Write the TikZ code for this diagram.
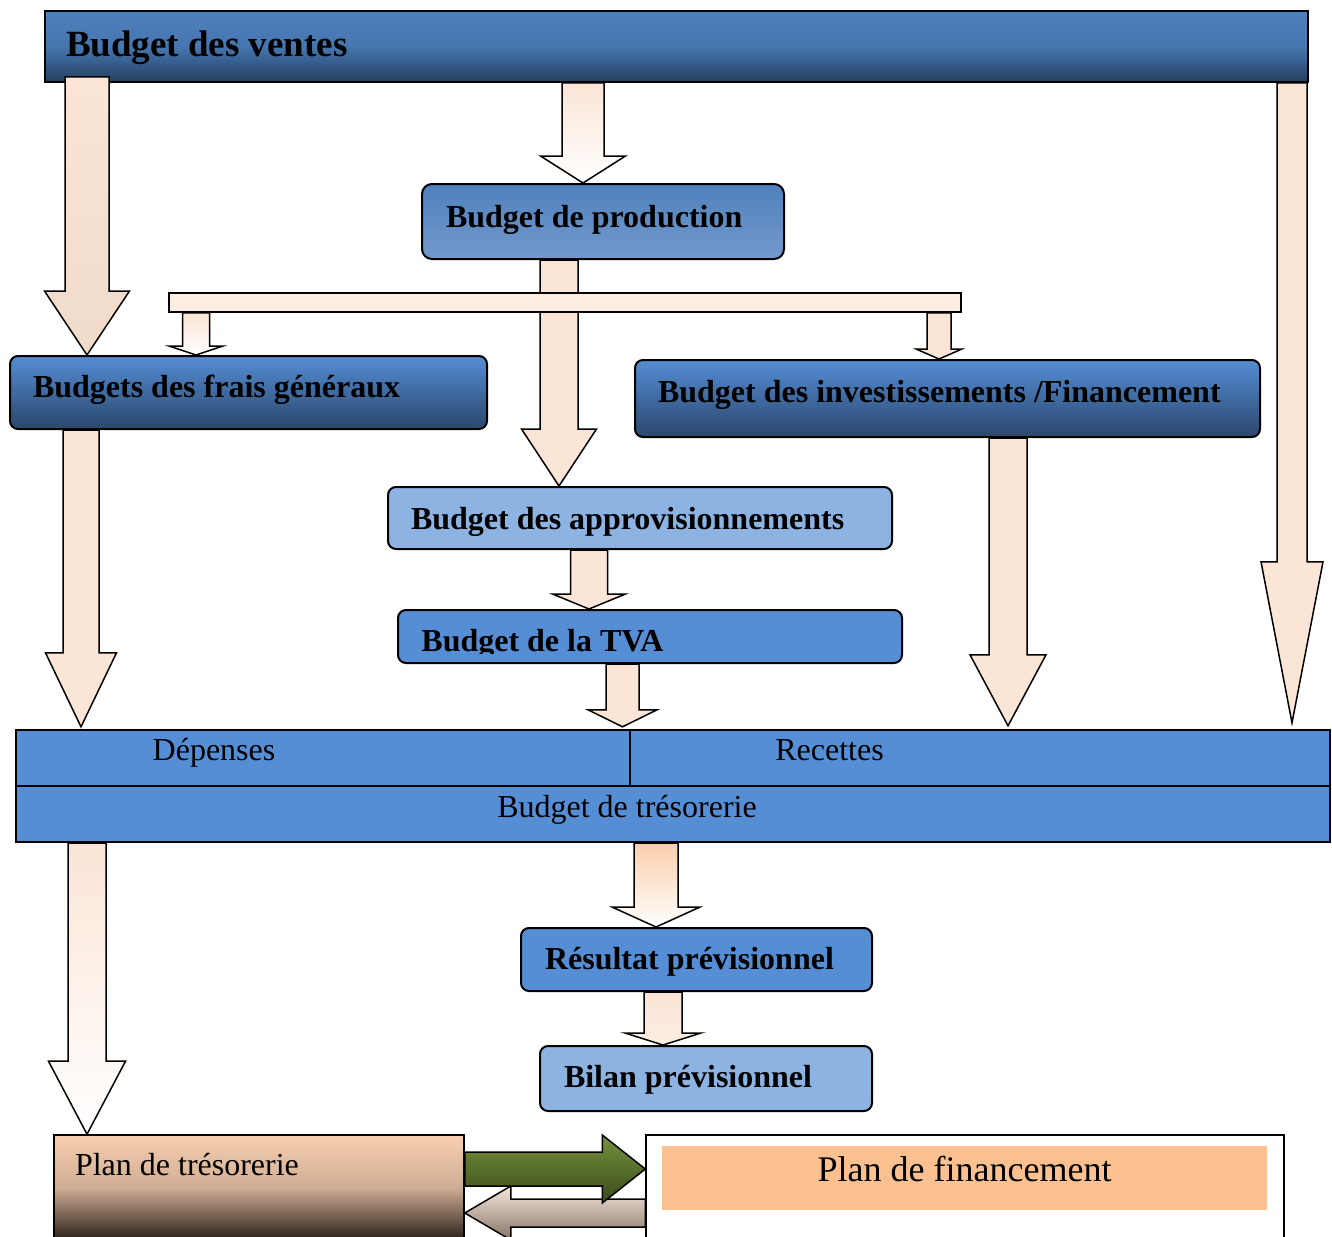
\documentclass[tikz,border=0pt]{standalone}
\usepackage{fontspec}
\setmainfont{Liberation Serif}
\usetikzlibrary{calc}
\definecolor{peach}{HTML}{FBE5D6}
\definecolor{peachdk}{HTML}{F0DACA}
\definecolor{peachlt}{HTML}{FDEDE2}
\definecolor{peachor}{HTML}{F9CFAC}
\definecolor{boxblue}{HTML}{558ED5}
\definecolor{lightblue}{HTML}{8DB3E2}
\definecolor{bluetop}{HTML}{4F81BD}
\definecolor{bluemid}{HTML}{4676B0}
\definecolor{bluedark}{HTML}{25405F}
\definecolor{bluetop2}{HTML}{548DD4}
\definecolor{bluedark2}{HTML}{2B476C}
\definecolor{bluelow}{HTML}{7399CC}
\definecolor{orangefill}{HTML}{FAC090}
\definecolor{greentop}{HTML}{76923C}
\definecolor{greendk}{HTML}{394A1B}
\definecolor{graytop}{HTML}{F8E8DC}
\definecolor{graydk}{HTML}{857466}
\definecolor{brtop}{HTML}{F8CFAE}
\definecolor{brmid}{HTML}{CFAD94}
\definecolor{brdk}{HTML}{2A2019}
\newcommand\natsp{\spaceskip=0pt\xspaceskip=0pt\relax}
\tikzset{
  bx/.style={draw=black, line width=1pt, rounded corners=4pt, inner ysep=0pt, align=left,
    text height=14pt, font=\bfseries\fontsize{16}{19}\selectfont},
  cell/.style={draw=black, line width=1.2pt, fill=boxblue, inner sep=0pt, minimum height=28pt},
  celltext/.style={font=\fontsize{16}{19}\selectfont, inner sep=0pt, anchor=base},
  arr/.style={draw=black, line width=0.75pt, line join=miter, fill=peach},
}
% vertical block arrow: start, tip, shaft half width, head half width, head length (px)
\newcommand\darrow[6][]{%
  \path[#1] let \p1=(#2), \p2=(#3) in
   ({\x2-#4*0.5pt},\y1) -- ({\x2-#4*0.5pt},{\y2+#6*0.5pt}) -- ({\x2-#5*0.5pt},{\y2+#6*0.5pt}) -- (\x2,\y2)
   -- ({\x2+#5*0.5pt},{\y2+#6*0.5pt}) -- ({\x2+#4*0.5pt},{\y2+#6*0.5pt}) -- ({\x2+#4*0.5pt},\y1) -- cycle;}
% horizontal block arrow: start, tip, shaft half width, head half width, signed head length (px)
\newcommand\harrow[6][]{%
  \path[#1] let \p1=(#2), \p2=(#3) in
   (\x1,{\y2+#4*0.5pt}) -- ({\x2-(#6)*0.5pt},{\y2+#4*0.5pt}) -- ({\x2-(#6)*0.5pt},{\y2+#5*0.5pt}) -- (\x2,\y2)
   -- ({\x2-(#6)*0.5pt},{\y2-#5*0.5pt}) -- ({\x2-(#6)*0.5pt},{\y2-#4*0.5pt}) -- (\x1,{\y2-#4*0.5pt}) -- cycle;}
\begin{document}
\begin{tikzpicture}[x=0.5pt,y=-0.5pt]
\useasboundingbox (0,0) rectangle (1332,1236);
\fill[white] (0,0) rectangle (1332,1236);
\clip (0,0) rectangle (1332,1236);

% boxes
\node[bx, rounded corners=0pt, top color=bluetop, bottom color=bluedark, middle color=bluemid,
  minimum height=35.5pt, text width=610.5pt, inner xsep=10.5pt, text depth=3.5pt,
  font=\bfseries\fontsize{18.5}{22}\selectfont] (ventes) at (676.5,46.5) {\natsp Budget des ventes};
\node[bx, rounded corners=5pt, top color=bluetop, bottom color=bluelow,
  minimum height=37.5pt, text width=157pt, inner xsep=12pt, text depth=8.5pt] (production) at (603,221.5) {\natsp Budget de production};
\node[bx, top color=bluetop2, bottom color=bluedark2,
  minimum height=36.5pt, text width=215.5pt, inner xsep=11.5pt, text depth=9.5pt] (frais) at (248.5,392.5) {\natsp Budgets des frais généraux};
\node[bx, top color=bluetop2, bottom color=bluedark2,
  minimum height=38.5pt, text width=289.5pt, inner xsep=11.5pt, text depth=9.8pt] (invest) at (947.5,398.5) {\natsp Budget des investissements /Financement};
\node[bx, fill=lightblue,
  minimum height=31pt, text width=229pt, inner xsep=11.5pt, text depth=2.7pt] (appro) at (640,518) {\natsp Budget des approvisionnements};
\node[bx, fill=boxblue, minimum height=26.5pt, minimum width=252pt, inner sep=0pt] (tva) at (650,636.5) {};

\node[cell, minimum width=307pt] (depenses) at (323,758) {};
\node[cell, minimum width=350pt] (recettes) at (980,758) {};
\node[cell, minimum width=657pt] (tresorerie) at (673,814) {};
\node[celltext] (tdep) at (214,760) {Dépenses};
\node[celltext] (trec) at (829.5,760) {Recettes};
\node[celltext] (ttreso) at (627,817) {Budget de trésorerie};

\node[bx, fill=boxblue,
  minimum height=31.5pt, text width=151.5pt, inner xsep=12pt, text depth=4.2pt] (resultat) at (696.5,959.5) {\natsp Résultat prévisionnel};
\node[bx, fill=lightblue,
  minimum height=32.5pt, text width=142pt, inner xsep=12pt, text depth=5.2pt] (bilan) at (706,1078.5) {\natsp Bilan prévisionnel};

\node[draw=black, line width=0.8pt, top color=brtop, bottom color=brdk, middle color=brmid,
  minimum height=52.5pt, text width=184pt, inner xsep=10.5pt, inner ysep=0pt, align=left,
  text height=14pt, text depth=26.5pt, font=\fontsize{16}{19}\selectfont] (plantreso) at (259,1187.5) {\natsp Plan de trésorerie};

% anchor points on the bottom row
\coordinate (greentip) at (645,1169);
\coordinate (graytip) at (464,1213);

% arrows
\darrow[arr, top color=peach, bottom color=white]{ventes.south}{583,0 |- production.north}{21}{42.5}{27}
\darrow[arr]{1292,0 |- ventes.south}{$(1292,0 |- recettes.north)+(0,-6)$}{15}{31}{161}
\darrow[arr, top color=peach, bottom color=peachdk]{$(87,0 |- ventes.south)+(0,-6)$}{87,0 |- frais.north}{22}{42.5}{64}
\darrow[arr]{559,0 |- production.south}{559,0 |- appro.north}{19}{37.5}{57}
\node[draw=black, line width=0.75pt, fill=peachlt, minimum width=396pt, minimum height=9.5pt, inner sep=0pt] (branch) at (565,302.5) {};
\darrow[arr, top color=peach, bottom color=white]{196,0 |- branch.south}{196,0 |- frais.north}{13.5}{27}{9}
\darrow[arr]{939,0 |- branch.south}{939,0 |- invest.north}{12}{23}{10}
\darrow[arr]{81,0 |- frais.south}{$(81,0 |- depenses.north)+(0,-2)$}{18}{35.5}{74}
\darrow[arr]{589,0 |- appro.south}{589,0 |- tva.north}{18.5}{36.5}{15}
\darrow[arr]{622.5,0 |- tva.south}{$(622.5,0 |- depenses.north)+(0,-2)$}{16.5}{34.5}{17}
\darrow[arr]{1008,0 |- invest.south}{$(1008,0 |- recettes.north)+(0,-3)$}{19}{38}{71}
\darrow[arr, top color=peach, bottom color=white]{87,0 |- tresorerie.south}{87,0 |- plantreso.north}{19}{38.5}{73}
\darrow[arr, top color=peachor, bottom color=white]{656,0 |- tresorerie.south}{656,0 |- resultat.north}{22}{44}{20}
\darrow[arr, top color=peach, bottom color=peachlt]{663,0 |- resultat.south}{663,0 |- bilan.north}{19}{38}{12}

% plan de financement
\node[draw=black, line width=0.7pt, fill=white, minimum width=319pt, minimum height=52.5pt, inner sep=0pt] (planfin) at (965,1187.5) {};
\harrow[arr, top color=graytop, bottom color=graydk]{planfin.west}{graytip -| plantreso.east}{14}{27}{-46}
\harrow[arr, top color=greentop, bottom color=greendk]{plantreso.east}{greentip -| planfin.west}{17}{34}{43}
\node[fill=orangefill, minimum width=302.5pt, minimum height=32pt, inner xsep=0pt, inner ysep=0pt,
  text height=14pt, text depth=11pt, font=\fontsize{18}{22}\selectfont] (planfinlabel) at (964.5,1178) {Plan de financement};

% TVA label, cut at the bottom as in the source
\begin{scope}
  \clip (tva.north west) rectangle ($(tva.south east)+(0,-11)$);
  \node[anchor=base west, inner sep=0pt, font=\bfseries\fontsize{16}{19}\selectfont] (tvatext) at (421,651) {Budget de la TVA};
\end{scope}
\end{tikzpicture}
\end{document}
